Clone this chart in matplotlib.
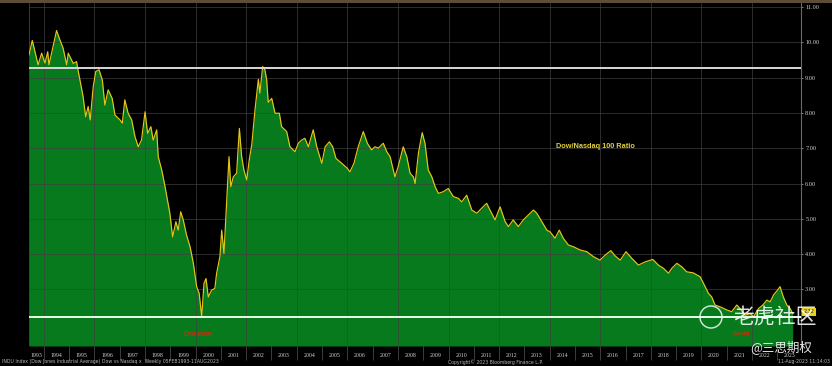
import matplotlib
matplotlib.use("Agg")
import matplotlib.pyplot as plt
from matplotlib.patches import Rectangle, Ellipse

# --- data (decimal year, Dow / Nasdaq 100 ratio) ---
years = [
    1993.41, 1993.54, 1993.77, 1993.91, 1994.04, 1994.15, 1994.20, 1994.50, 1994.63, 1994.76,
    1994.90, 1994.96, 1995.16, 1995.29, 1995.36, 1995.55, 1995.65, 1995.75, 1995.83, 1995.95,
    1996.05, 1996.18, 1996.31, 1996.41, 1996.54, 1996.70, 1996.81, 1997.01, 1997.10, 1997.20,
    1997.33, 1997.47, 1997.60, 1997.73, 1997.86, 1998.00, 1998.10, 1998.23, 1998.32, 1998.46,
    1998.52, 1998.66, 1998.79, 1998.98, 1999.09, 1999.22, 1999.31, 1999.41, 1999.51, 1999.64,
    1999.78, 1999.91, 2000.04, 2000.14, 2000.24, 2000.33, 2000.41, 2000.50, 2000.63, 2000.76,
    2000.83, 2000.96, 2001.03, 2001.12, 2001.23, 2001.32, 2001.39, 2001.49, 2001.62, 2001.73,
    2001.82, 2001.91, 2002.02, 2002.12, 2002.22, 2002.35, 2002.48, 2002.54, 2002.65, 2002.74,
    2002.81, 2002.87, 2003.01, 2003.14, 2003.31, 2003.40, 2003.60, 2003.73, 2003.93, 2004.06,
    2004.19, 2004.32, 2004.46, 2004.65, 2004.79, 2004.99, 2005.12, 2005.29, 2005.42, 2005.55,
    2005.78, 2006.00, 2006.10, 2006.26, 2006.43, 2006.63, 2006.79, 2006.96, 2007.09, 2007.22,
    2007.42, 2007.56, 2007.69, 2007.88, 2008.01, 2008.21, 2008.35, 2008.48, 2008.61, 2008.68,
    2008.81, 2008.96, 2009.07, 2009.20, 2009.34, 2009.47, 2009.60, 2009.80, 2009.99, 2010.19,
    2010.39, 2010.52, 2010.72, 2010.92, 2011.12, 2011.31, 2011.51, 2011.64, 2011.84, 2012.04,
    2012.24, 2012.37, 2012.56, 2012.76, 2012.96, 2013.16, 2013.36, 2013.49, 2013.69, 2013.89,
    2014.02, 2014.21, 2014.38, 2014.54, 2014.74, 2014.94, 2015.20, 2015.47, 2015.73, 2015.99,
    2016.19, 2016.42, 2016.59, 2016.79, 2017.02, 2017.25, 2017.51, 2017.77, 2018.08, 2018.30,
    2018.50, 2018.70, 2018.83, 2019.03, 2019.23, 2019.42, 2019.68, 2019.95, 2020.15, 2020.28,
    2020.41, 2020.54, 2020.74, 2021.01, 2021.20, 2021.40, 2021.53, 2021.73, 2021.93, 2022.06,
    2022.26, 2022.43, 2022.59, 2022.72, 2022.85, 2023.01, 2023.11, 2023.24, 2023.38, 2023.51,
    2023.61,
]
ratio = [
    9.64, 10.05, 9.36, 9.69, 9.41, 9.73, 9.36, 10.33, 10.07, 9.83,
    9.36, 9.69, 9.40, 9.45, 9.17, 8.46, 7.89, 8.18, 7.80, 8.74,
    9.17, 9.22, 8.93, 8.22, 8.65, 8.41, 7.94, 7.80, 7.71, 8.37,
    7.99, 7.80, 7.33, 7.04, 7.23, 8.03, 7.42, 7.61, 7.23, 7.52,
    6.76, 6.38, 5.91, 5.16, 4.49, 4.92, 4.68, 5.20, 4.97, 4.54,
    4.21, 3.74, 3.08, 2.89, 2.23, 3.17, 3.31, 2.79, 2.98, 3.03,
    3.46, 3.93, 4.68, 4.02, 5.53, 6.76, 5.91, 6.19, 6.29, 7.56,
    6.76, 6.38, 6.10, 6.67, 7.10, 8.10, 8.95, 8.56, 9.31, 9.22,
    8.93, 8.30, 8.41, 7.99, 7.99, 7.61, 7.47, 7.04, 6.90, 7.14,
    7.23, 7.28, 7.04, 7.52, 7.04, 6.57, 7.04, 7.18, 7.04, 6.71,
    6.57, 6.43, 6.33, 6.57, 7.04, 7.47, 7.14, 6.95, 7.04, 7.00,
    7.14, 6.90, 6.76, 6.19, 6.48, 7.04, 6.76, 6.29, 6.19, 6.00,
    6.86, 7.44, 7.14, 6.38, 6.19, 5.91, 5.72, 5.77, 5.86, 5.63,
    5.58, 5.48, 5.67, 5.25, 5.16, 5.30, 5.44, 5.25, 4.97, 5.34,
    4.92, 4.78, 4.97, 4.78, 4.97, 5.11, 5.25, 5.16, 4.92, 4.68,
    4.63, 4.45, 4.68, 4.45, 4.26, 4.21, 4.12, 4.07, 3.93, 3.83,
    3.97, 4.10, 3.95, 3.83, 4.07, 3.88, 3.69, 3.78, 3.85, 3.69,
    3.60, 3.46, 3.60, 3.74, 3.64, 3.50, 3.47, 3.36, 3.08, 2.89,
    2.79, 2.56, 2.51, 2.42, 2.37, 2.56, 2.46, 2.27, 2.32, 2.23,
    2.46, 2.56, 2.70, 2.65, 2.84, 2.98, 3.08, 2.79, 2.56, 2.46,
    2.32,
]
upper_level = 9.27
lower_level = 2.22
yticks = [3, 4, 5, 6, 7, 8, 9, 10, 11]
year_labels = list(range(1993, 2024))

X0, X1 = 1993.41, 2023.94
Y0, Y1 = 1.40, 11.11

GREEN = "#067a1c"
YELLOW = "#e6c619"

fig = plt.figure(figsize=(8.32, 3.66), dpi=100, facecolor="black")
ax = fig.add_axes([29 / 832, 20 / 366, (801 - 29) / 832, 343 / 366])
ax.set_facecolor("black")
ax.set_xlim(X0, X1)
ax.set_ylim(Y0, Y1)

# grid: every unit on y, every two years on x
for v in yticks:
    ax.axhline(v, color="#404040", lw=0.6, zorder=3, alpha=0.8)
for yr in range(1994, 2024, 2):
    ax.axvline(yr, color="#404040", lw=0.6, zorder=3, alpha=0.8)

ax.fill_between(years, ratio, Y0, color=GREEN, lw=0, zorder=2)
ax.plot(years, ratio, color=YELLOW, lw=0.85, zorder=4)

ax.axhline(upper_level, color="#d8d8d8", lw=1.4, zorder=5)
ax.axhline(lower_level, color="#e8ffe8", lw=1.4, zorder=5)

# axes frame
for side in ["left", "top", "bottom"]:
    ax.spines[side].set_visible(False)
ax.spines["right"].set_color("#7a6a3a")
ax.spines["right"].set_linewidth(0.8)
ax.plot([X0, X0], [Y0, Y1], color="#444444", lw=0.6, zorder=1)

# y axis on the right
ax.yaxis.tick_right()
ax.set_yticks(yticks)
ax.set_yticklabels([f"{v:.2f}" for v in yticks], family="Liberation Serif",
                   fontsize=4.5, color="#d0d0d0")
ax.tick_params(axis="y", length=1.5, width=0.5, color="#b0b0b0", pad=1.5)

# x axis: year labels centred in each year, separators at year boundaries
centres = []
for yr in year_labels:
    lo, hi = max(yr, X0), min(yr + 1, X1)
    centres.append((lo + hi) / 2)
ax.set_xticks(centres)
ax.set_xticklabels([str(y) for y in year_labels], family="Liberation Serif",
                   fontsize=4.2, color="#d0d0d0")
ax.set_xticks(list(range(1994, 2024)), minor=True)
ax.tick_params(axis="x", which="major", length=0, pad=5)
ax.tick_params(axis="x", which="minor", length=10, width=0.5, color="#555555")

# last price tag
ax.text(X1 + 0.1, 2.37, f"{ratio[-1]:.2f}", fontsize=3.5, color="#222222",
        va="center", ha="left", clip_on=False, zorder=7,
        bbox=dict(boxstyle="square,pad=0.3", fc="#e8d020", ec="none"))

# annotations
ax.text(2015.8, 7.06, "Dow/Nasdaq 100 Ratio", fontsize=5.3, fontweight="bold",
        color="#e0d040", family="Liberation Sans", ha="center", va="center", zorder=6)
ax.text(2000.1, 1.73, "Dot com", fontsize=5, fontweight="bold", color="#c83010",
        family="Liberation Sans", ha="center", va="center", zorder=6)
ax.text(2021.6, 1.76, "Covid", fontsize=4.5, fontweight="bold", color="#c83010",
        family="Liberation Sans", ha="center", va="center", zorder=12)

# footer
fig.text(2 / 832, 1 - 362 / 366, "INDU Index (Dow Jones Industrial Average) Dow vs Nasdaq x  "
         "Weekly 05FEB1993-11AUG2023", fontsize=3.3, color="#b8b8b8", va="center")
fig.text(495 / 832, 1 - 362 / 366, "Copyright\u00a9 2023 Bloomberg Finance L.P.",
         fontsize=3.3, color="#b8b8b8", va="center", ha="center")
fig.text(830 / 832, 1 - 362 / 366, "11-Aug-2023 11:14:03", fontsize=3.3,
         color="#b8b8b8", va="center", ha="right")

# header strip
fig.add_artist(Rectangle((0, 1 - 3 / 366), 1, 3 / 366, transform=fig.transFigure,
                         color="#5e4d36", lw=0))

# watermark
cjk = ["Noto Sans CJK SC", "DejaVu Sans"]
fig.text(775 / 832, 1 - 317 / 366, "老虎社区", family=cjk, fontsize=15,
         color="white", alpha=0.88, ha="center", va="center", zorder=10)
fig.text(781 / 832, 1 - 347 / 366, "@三思期权", family=cjk, fontsize=9,
         color="white", alpha=0.9, ha="center", va="center", zorder=10)
fig.add_artist(Ellipse((711 / 832, 1 - 317 / 366), 22 / 832, 22 / 366,
                       transform=fig.transFigure, fill=False, ec="white", lw=1.1, alpha=0.8))

fig.savefig("out.png", dpi=100, facecolor="black")
